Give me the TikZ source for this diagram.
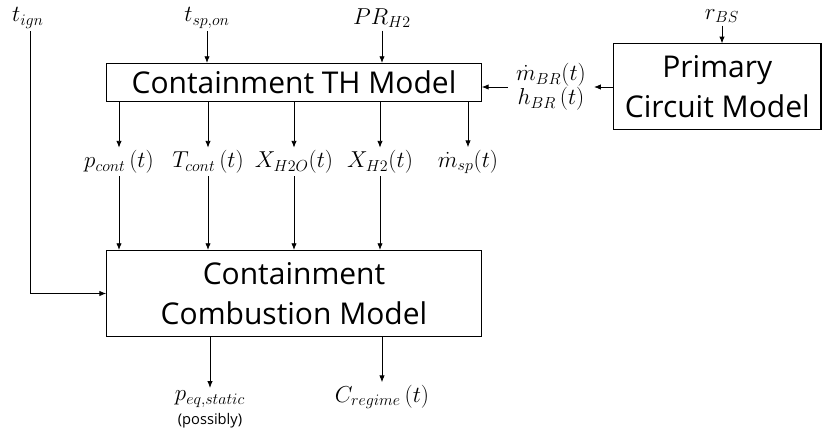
\documentclass[tikz,border=0pt]{standalone}
\usepackage{fontspec}
\setsansfont{Open Sans}
\DeclareMathSizes{16}{16}{12.5}{10}
\usetikzlibrary{arrows.meta}

\begin{document}
\begin{tikzpicture}[x=0.75pt, y=-0.75pt,
  block/.style={draw, line width=0.8pt, inner sep=0pt, align=center, font=\sffamily\fontsize{22.5}{30.5}\selectfont},
  var/.style={inner sep=2pt, font=\fontsize{16}{18}\selectfont},
  flow/.style={-{Latex[length=5pt,width=4pt]}, line width=0.6pt}]
\useasboundingbox (0,0) rectangle (822,433);

\node[block, minimum width=281pt, minimum height=28.5pt] (TH) at (294,82.5) {Containment TH Model};
\node[block, minimum width=281pt, minimum height=64.5pt] (CB) at (294,293.5) {Containment\\Combustion Model};
\node[block, minimum width=155.5pt, minimum height=64pt] (PC) at (717.3,86.5) {Primary\\Circuit Model};

\node[var] (tign) at (28,18) {$t_{ign}$};
\node[var] (tsp) at (207,18) {$t_{sp,on}$};
\node[var] (prh) at (382,18) {$PR_{H2}$};
\node[var] (rbs) at (722,16) {$r_{BS}$};

\node[var] (pc) at (119,162) {$p_{cont}\,(t)$};
\node[var] (tc) at (208,162) {$T_{cont}\,(t)$};
\node[var] (xw) at (294,162) {$X_{H2O}(t)$};
\node[var] (xh) at (380,162) {$X_{H2}(t)$};
\node[var] (ms) at (468,162) {$\dot{m}_{sp}(t)$};

\node[var, inner xsep=6pt, align=center] (br) at (551,87) {$\dot{m}_{BR}(t)$\\$h_{BR}\,(t)$};

\node[var] (peq) at (210,399) {$p_{eq,static}$};
\node[inner sep=1pt, font=\sffamily\fontsize{11}{13}\selectfont] (note) at (210,421) {(possibly)};
\node[var] (cr) at (382,397) {$C_{regime}\,(t)$};

\draw[flow] (tsp) -- (tsp |- TH.north);
\draw[flow] (prh) -- (prh |- TH.north);
\draw[flow] (rbs) -- (rbs |- PC.north);
\draw[flow] (tign.south -| 30,0) |- (CB.west);

\foreach \v in {pc,tc,xw,xh,ms}
  \draw[flow] (TH.south -| \v) -- (\v);
\foreach \v in {pc,tc,xw,xh}
  \draw[flow] (\v) -- (\v |- CB.north);

\draw[flow] (PC.west |- br) -- (br);
\draw[flow] (br) -- (br -| TH.east);

\draw[flow] (CB.south -| peq) -- (peq);
\draw[flow] (CB.south -| cr) -- (cr);
\end{tikzpicture}
\end{document}
